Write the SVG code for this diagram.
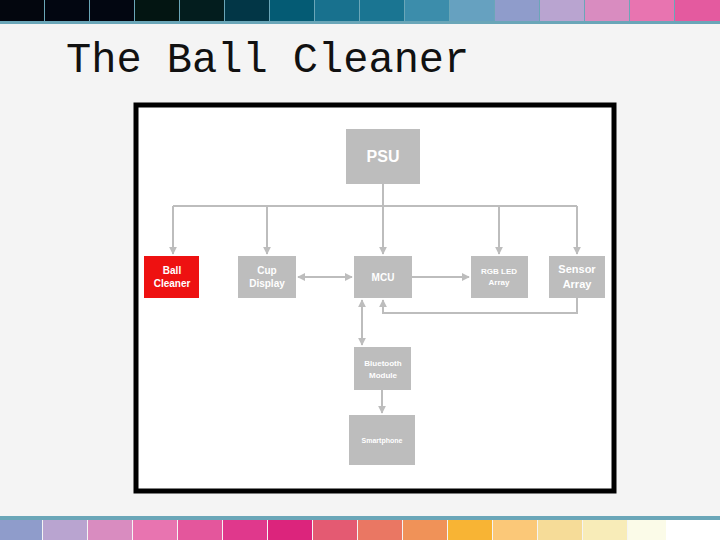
<svg xmlns="http://www.w3.org/2000/svg" width="720" height="540" viewBox="0 0 720 540">
<style>
.n{fill:#bdbdbd}
.t{fill:#fff;font-family:"Liberation Sans",Arial,sans-serif;font-weight:bold;text-anchor:middle}
.c{stroke:#bdbdbd;stroke-width:2;fill:none}
</style>
<defs><marker id="a" viewBox="0 0 10 10" refX="9" refY="5" markerWidth="4" markerHeight="4" orient="auto-start-reverse"><path d="M0,0L10,5L0,10z" fill="#bdbdbd"/></marker></defs>
<rect width="720" height="540" fill="#f4f4f4"/>
<g id="topbar">
<rect x="0" y="0" width="720" height="24" fill="#6aa6b8"/>
<rect x="0" y="0" width="44" height="21" fill="#03060e"/><rect x="45" y="0" width="44" height="21" fill="#020611"/><rect x="90" y="0" width="44" height="21" fill="#020611"/><rect x="135" y="0" width="44" height="21" fill="#031512"/><rect x="180" y="0" width="44" height="21" fill="#031d1e"/><rect x="225" y="0" width="44" height="21" fill="#023646"/><rect x="270" y="0" width="44" height="21" fill="#045b74"/><rect x="315" y="0" width="44" height="21" fill="#18718e"/><rect x="360" y="0" width="44" height="21" fill="#1a7592"/><rect x="405" y="0" width="44" height="21" fill="#3c8dab"/><rect x="450" y="0" width="44" height="21" fill="#66a1c0"/><rect x="495" y="0" width="44" height="21" fill="#8f9ccb"/><rect x="540" y="0" width="44" height="21" fill="#b9a4d0"/><rect x="585" y="0" width="44" height="21" fill="#d98cc0"/><rect x="630" y="0" width="44" height="21" fill="#e874b0"/><rect x="675" y="0" width="45" height="21" fill="#e45a9f"/>
</g>
<g id="bottombar">
<rect x="0" y="516" width="720" height="4" fill="#6aa6b8"/>
<rect x="0" y="520" width="42" height="20" fill="#8f9ccb"/><rect x="43" y="520" width="44" height="20" fill="#b9a4d0"/><rect x="88" y="520" width="44" height="20" fill="#d98cc0"/><rect x="133" y="520" width="44" height="20" fill="#e874b0"/><rect x="178" y="520" width="44" height="20" fill="#e4569c"/><rect x="223" y="520" width="44" height="20" fill="#e0388c"/><rect x="268" y="520" width="44" height="20" fill="#dc247c"/><rect x="313" y="520" width="44" height="20" fill="#e45a72"/><rect x="358" y="520" width="44" height="20" fill="#ea7763"/><rect x="403" y="520" width="44" height="20" fill="#f09258"/><rect x="448" y="520" width="44" height="20" fill="#f8b434"/><rect x="493" y="520" width="44" height="20" fill="#fbc878"/><rect x="538" y="520" width="44" height="20" fill="#f6dc98"/><rect x="583" y="520" width="44" height="20" fill="#f8ecb8"/><rect x="628" y="520" width="38" height="20" fill="#fbfbe8"/><rect x="666" y="520" width="54" height="20" fill="#fff"/>
</g>
<text x="66" y="72" font-family="Liberation Mono,Courier New,monospace" font-size="42" fill="#111">The Ball Cleaner</text>
<rect x="136" y="105" width="478" height="386" fill="#fff" stroke="#000" stroke-width="5"/>
<g id="connectors" class="c">
<path d="M383 184V206M173 206H577"/>
<path d="M173 206V254" marker-end="url(#a)"/>
<path d="M267 206V254" marker-end="url(#a)"/>
<path d="M383 206V254" marker-end="url(#a)"/>
<path d="M499 206V254" marker-end="url(#a)"/>
<path d="M577 206V254" marker-end="url(#a)"/>
<path d="M298 277H352" marker-start="url(#a)" marker-end="url(#a)"/>
<path d="M412 277H469" marker-end="url(#a)"/>
<path d="M577 298V313H383V300" marker-end="url(#a)"/>
<path d="M362 300V345" marker-start="url(#a)" marker-end="url(#a)"/>
<path d="M382 390V413" marker-end="url(#a)"/>
</g>
<g id="psu"><rect class="n" x="346" y="129" width="74" height="55"/><text class="t" x="383" y="162" font-size="16">PSU</text></g>
<g id="ball"><rect x="144" y="256" width="55" height="42" fill="#ee1111"/><text class="t" x="172" y="274" font-size="10">Ball</text><text class="t" x="172" y="287" font-size="10">Cleaner</text></g>
<g id="cup"><rect class="n" x="238" y="256" width="58" height="42"/><text class="t" x="267" y="274" font-size="10">Cup</text><text class="t" x="267" y="287" font-size="10">Display</text></g>
<g id="mcu"><rect class="n" x="354" y="256" width="58" height="42"/><text class="t" x="383" y="281" font-size="10">MCU</text></g>
<g id="rgb"><rect class="n" x="471" y="256" width="57" height="42"/><text class="t" x="499" y="274" font-size="8">RGB LED</text><text class="t" x="499" y="285" font-size="8">Array</text></g>
<g id="sensor"><rect class="n" x="549" y="256" width="56" height="42"/><text class="t" x="577" y="273" font-size="11">Sensor</text><text class="t" x="577" y="288" font-size="11">Array</text></g>
<g id="bt"><rect class="n" x="354" y="347" width="57" height="43"/><text class="t" x="383" y="366" font-size="8">Bluetooth</text><text class="t" x="383" y="378" font-size="8">Module</text></g>
<g id="phone"><rect class="n" x="349" y="415" width="66" height="50"/><text class="t" x="382" y="443" font-size="7">Smartphone</text></g>
</svg>
